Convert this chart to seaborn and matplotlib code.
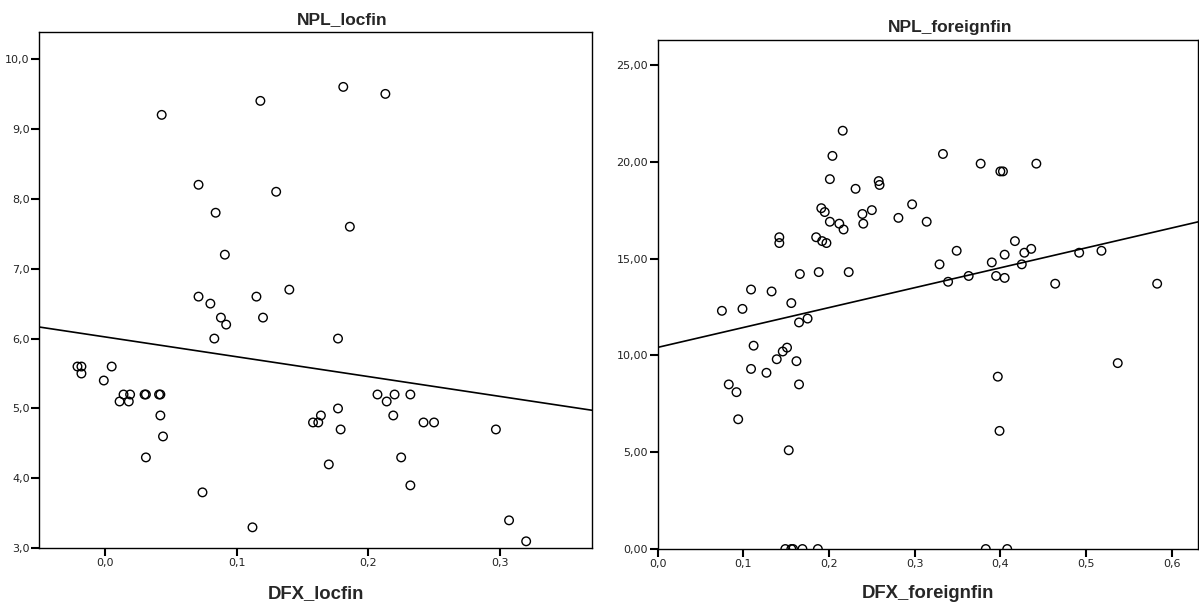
import matplotlib
matplotlib.use("Agg")
import matplotlib.pyplot as plt
import seaborn as sns
import numpy as np
from matplotlib import font_manager

# --- data: local financing ---
dfx_locfin = [-0.021, -0.018, -0.018, -0.001, 0.005, 0.011, 0.014, 0.018, 0.019,
              0.030, 0.031, 0.041, 0.042, 0.042, 0.044, 0.031, 0.074, 0.112,
              0.083, 0.088, 0.092, 0.080, 0.120, 0.043, 0.071, 0.130, 0.084,
              0.091, 0.071, 0.115, 0.140, 0.118, 0.181, 0.213, 0.186, 0.177,
              0.207, 0.214, 0.220, 0.232, 0.177, 0.164, 0.158, 0.162, 0.179,
              0.219, 0.242, 0.250, 0.297, 0.170, 0.225, 0.232, 0.307, 0.320]
npl_locfin = [5.6, 5.6, 5.5, 5.4, 5.6, 5.1, 5.2, 5.1, 5.2,
              5.2, 5.2, 5.2, 5.2, 4.9, 4.6, 4.3, 3.8, 3.3,
              6.0, 6.3, 6.2, 6.5, 6.3, 9.2, 8.2, 8.1, 7.8,
              7.2, 6.6, 6.6, 6.7, 9.4, 9.6, 9.5, 7.6, 6.0,
              5.2, 5.1, 5.2, 5.2, 5.0, 4.9, 4.8, 4.8, 4.7,
              4.9, 4.8, 4.8, 4.7, 4.2, 4.3, 3.9, 3.4, 3.1]

# --- data: foreign financing ---
dfx_foreignfin = [0.075, 0.099, 0.156, 0.165, 0.175, 0.112, 0.146, 0.151, 0.139,
                  0.162, 0.109, 0.127, 0.083, 0.165, 0.092, 0.094, 0.153,
                  0.149, 0.156, 0.158, 0.169, 0.187, 0.383, 0.408,
                  0.216, 0.204, 0.201, 0.231, 0.258, 0.259, 0.191, 0.195,
                  0.250, 0.239, 0.201, 0.212, 0.217, 0.240, 0.281, 0.142,
                  0.142, 0.185, 0.192, 0.197, 0.166, 0.188, 0.223, 0.109,
                  0.133, 0.333, 0.377, 0.400, 0.403, 0.442, 0.297, 0.314,
                  0.417, 0.349, 0.436, 0.428, 0.405, 0.492, 0.518, 0.329,
                  0.390, 0.425, 0.363, 0.395, 0.405, 0.339, 0.464, 0.583,
                  0.537, 0.397, 0.399]
npl_foreignfin = [12.3, 12.4, 12.7, 11.7, 11.9, 10.5, 10.2, 10.4, 9.8,
                  9.7, 9.3, 9.1, 8.5, 8.5, 8.1, 6.7, 5.1,
                  0.0, 0.0, 0.0, 0.0, 0.0, 0.0, 0.0,
                  21.6, 20.3, 19.1, 18.6, 19.0, 18.8, 17.6, 17.4,
                  17.5, 17.3, 16.9, 16.8, 16.5, 16.8, 17.1, 16.1,
                  15.8, 16.1, 15.9, 15.8, 14.2, 14.3, 14.3, 13.4,
                  13.3, 20.4, 19.9, 19.5, 19.5, 19.9, 17.8, 16.9,
                  15.9, 15.4, 15.5, 15.3, 15.2, 15.3, 15.4, 14.7,
                  14.8, 14.7, 14.1, 14.1, 14.0, 13.8, 13.7, 13.7,
                  9.6, 8.9, 6.1]

# --- axis ticks and labels ---
loc_xticks = [0.0, 0.1, 0.2, 0.3]
loc_xticklabels = ["0,0", "0,1", "0,2", "0,3"]
loc_yticks = [3, 4, 5, 6, 7, 8, 9, 10]
loc_yticklabels = ["3,0", "4,0", "5,0", "6,0", "7,0", "8,0", "9,0", "10,0"]
for_xticks = [0.0, 0.1, 0.2, 0.3, 0.4, 0.5, 0.6]
for_xticklabels = ["0,0", "0,1", "0,2", "0,3", "0,4", "0,5", "0,6"]
for_yticks = [0, 5, 10, 15, 20, 25]
for_yticklabels = ["0,00", "5,00", "10,00", "15,00", "20,00", "25,00"]

sns.set_style("ticks")
plt.rcParams["font.family"] = ["DejaVu Sans"]

installed = {f.name for f in font_manager.fontManager.ttflist}
if "Liberation Sans Narrow" in installed:
    title_family, title_size = ["Liberation Sans Narrow", "Liberation Sans"], 15
else:
    title_family, title_size = ["Liberation Sans"], 12.5

fig = plt.figure(figsize=(11.99, 6.08), dpi=100)
ax1 = fig.add_axes([0.0328, 0.0982, 0.4609, 0.8497])
ax2 = fig.add_axes([0.5485, 0.0970, 0.4509, 0.8377])

panels = [
    (ax1, dfx_locfin, npl_locfin, "NPL_locfin", "DFX_locfin",
     (-0.05, 0.37), (3.0, 10.39), loc_xticks, loc_xticklabels, loc_yticks, loc_yticklabels, 0.548),
    (ax2, dfx_foreignfin, npl_foreignfin, "NPL_foreignfin", "DFX_foreignfin",
     (0.0, 0.631), (0.0, 26.3), for_xticks, for_xticklabels, for_yticks, for_yticklabels, 0.541),
]

for ax, x, y, title, xlabel, xlim, ylim, xt, xtl, yt, ytl, tx in panels:
    # limits first so the untruncated fit line spans the full x range
    ax.set_xlim(*xlim)
    ax.set_ylim(*ylim)
    sns.regplot(x=np.array(x), y=np.array(y), ax=ax, ci=None, truncate=False,
                marker="o", color="black",
                scatter_kws=dict(s=38, facecolors="none", edgecolors="black",
                                 linewidths=1.0, alpha=1),
                line_kws=dict(color="black", lw=1.2))
    ax.set_xlim(*xlim)
    ax.set_ylim(*ylim)
    ax.set_xticks(xt)
    ax.set_xticklabels(xtl)
    ax.set_yticks(yt)
    ax.set_yticklabels(ytl)
    ax.tick_params(direction="out", length=5.5, width=1.5, pad=1.5,
                   labelsize=8, labelcolor="#222222", color="black")
    for s in ax.spines.values():
        s.set_visible(True)
        s.set_linewidth(1.0)
        s.set_color("black")
    ax.set_title(title, x=tx, pad=5.5, family=title_family,
                 fontsize=title_size, fontweight="bold")
    ax.set_xlabel(xlabel, family=["Liberation Sans"], fontsize=13.3,
                  fontweight="bold", labelpad=12)
    ax.set_ylabel("")

fig.savefig("out.png", dpi=100, facecolor="white")
